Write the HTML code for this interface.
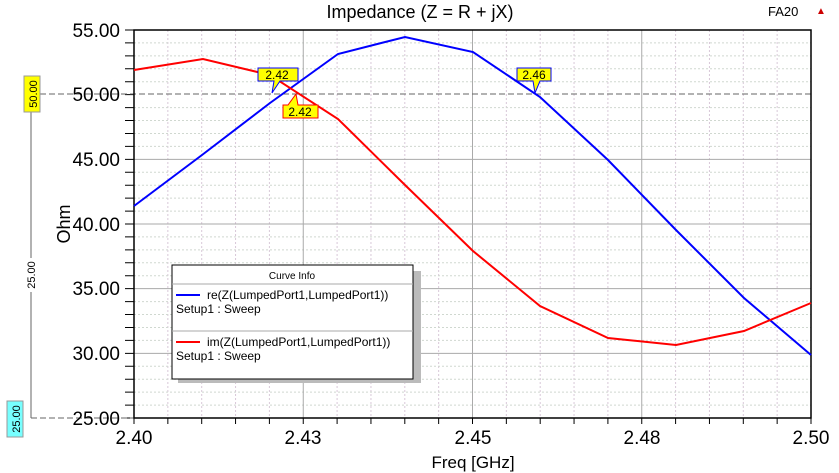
<!DOCTYPE html>
<html><head><style>body{margin:0;background:#fff}svg{display:block}</style></head><body>
<svg width="839" height="473" xmlns="http://www.w3.org/2000/svg" font-family="Liberation Sans, sans-serif">
<rect width="839" height="473" fill="#fff"/>
<path fill="none" stroke="#d8c8d8" stroke-dasharray="2,2" d="M167.85 30V418M201.7 30V418M235.55 30V418M269.4 30V418M337.1 30V418M370.95 30V418M404.8 30V418M438.65 30V418M506.35 30V418M540.2 30V418M574.05 30V418M607.9 30V418M675.6 30V418M709.45 30V418M743.3 30V418M777.15 30V418"/>
<path fill="none" stroke="#d0d8d0" stroke-dasharray="2,2" d="M134 42.93H811M134 55.87H811M134 68.8H811M134 81.73H811M134 107.6H811M134 120.53H811M134 133.47H811M134 146.4H811M134 172.27H811M134 185.2H811M134 198.13H811M134 211.07H811M134 236.93H811M134 249.87H811M134 262.8H811M134 275.73H811M134 301.6H811M134 314.53H811M134 327.47H811M134 340.4H811M134 366.27H811M134 379.2H811M134 392.13H811M134 405.07H811"/>
<path fill="none" stroke="#aaa" d="M303.25 30V418M472.5 30V418M641.75 30V418M134 159.33H811M134 224H811M134 288.67H811M134 353.33H811"/>
<path fill="none" stroke="#000" d="M125 30H134M125 42.93H134M125 55.87H134M125 68.8H134M125 81.73H134M125 94.67H134M125 107.6H134M125 120.53H134M125 133.47H134M125 146.4H134M125 159.33H134M125 172.27H134M125 185.2H134M125 198.13H134M125 211.07H134M125 224H134M125 236.93H134M125 249.87H134M125 262.8H134M125 275.73H134M125 288.67H134M125 301.6H134M125 314.53H134M125 327.47H134M125 340.4H134M125 353.33H134M125 366.27H134M125 379.2H134M125 392.13H134M125 405.07H134M125 418H134M134 418V424M167.85 418V424M201.7 418V424M235.55 418V424M269.4 418V424M303.25 418V424M337.1 418V424M370.95 418V424M404.8 418V424M438.65 418V424M472.5 418V424M506.35 418V424M540.2 418V424M574.05 418V424M607.9 418V424M641.75 418V424M675.6 418V424M709.45 418V424M743.3 418V424M777.15 418V424M811 418V424"/>
<line x1="31" y1="94" x2="811" y2="94" stroke="#666" stroke-dasharray="6,3"/>
<line x1="31" y1="418" x2="811" y2="418" stroke="#666" stroke-dasharray="6,3"/>
<line x1="31" y1="110" x2="31" y2="418" stroke="#666"/>
<rect x="134" y="30" width="677" height="388" fill="none" stroke="#000" stroke-width="1.5"/>
<text x="420" y="18" font-size="18" text-anchor="middle">Impedance (Z = R + jX)</text>
<text x="768" y="16" font-size="13">FA20</text>
<text x="816" y="14" font-size="10" fill="#c00">▲</text>
<g font-size="19" text-anchor="end">
<text x="120" y="37">55.00</text><text x="120" y="101">50.00</text><text x="120" y="166">45.00</text>
<text x="120" y="231">40.00</text><text x="120" y="295">35.00</text><text x="120" y="360">30.00</text><text x="120" y="425">25.00</text>
</g>
<g font-size="19" text-anchor="middle">
<text x="134" y="444">2.40</text><text x="303" y="444">2.43</text><text x="473" y="444">2.45</text><text x="642" y="444">2.48</text><text x="811" y="444">2.50</text>
</g>
<text x="473" y="468" font-size="17" text-anchor="middle">Freq [GHz]</text>
<text transform="translate(70,224) rotate(-90)" font-size="18" text-anchor="middle">Ohm</text>
<rect x="24" y="76" width="16" height="36" fill="#ff0" stroke="#999"/>
<text transform="translate(37,94) rotate(-90)" font-size="11" text-anchor="middle">50.00</text>
<rect x="7" y="401" width="16" height="36" fill="#7ff" stroke="#999"/>
<text transform="translate(20,419) rotate(-90)" font-size="11" text-anchor="middle">25.00</text>
<rect x="24" y="258" width="14" height="34" fill="#fff"/>
<text transform="translate(35,275) rotate(-90)" font-size="11" text-anchor="middle">25.00</text>
<polyline fill="none" stroke="#00f" stroke-width="2" points="134,206 202,155 270,103 338,54 405,37 473,52 540,97 608,160 676,230 744,298 811,355"/>
<polyline fill="none" stroke="#f00" stroke-width="2" points="134,70 203,59 270,75 338,119 405,185 473,251 540,306 608,338 676,345 744,331 811,303"/>
<polygon points="258,68 298,68 298,81 280,81 272,93 274,81 258,81" fill="#ff0" stroke="#00f"/>
<text x="277" y="79" font-size="12" text-anchor="middle">2.42</text>
<polygon points="283,105 288,105 296,94 298,105 318,105 318,118 283,118" fill="#ff0" stroke="#f00"/>
<text x="300" y="116" font-size="12" text-anchor="middle">2.42</text>
<polygon points="517,68 551,68 551,81 540,81 535,93 533,81 517,81" fill="#ff0" stroke="#00f"/>
<text x="534" y="79" font-size="12" text-anchor="middle">2.46</text>
<rect x="178" y="271" width="243" height="112" fill="#bbb"/>
<rect x="172" y="265" width="241" height="114" fill="#fff" stroke="#000"/>
<text x="292" y="279" font-size="10" text-anchor="middle">Curve Info</text>
<line x1="172" y1="284" x2="413" y2="284" stroke="#aaa"/>
<line x1="172" y1="331" x2="413" y2="331" stroke="#aaa"/>
<line x1="176" y1="295" x2="200" y2="295" stroke="#00f" stroke-width="2"/>
<line x1="176" y1="342" x2="200" y2="342" stroke="#f00" stroke-width="2"/>
<g font-size="12"><text x="207" y="299">re(Z(LumpedPort1,LumpedPort1))</text><text x="176" y="313">Setup1 : Sweep</text>
<text x="207" y="346">im(Z(LumpedPort1,LumpedPort1))</text><text x="176" y="360">Setup1 : Sweep</text></g>
</svg>
</body></html>
